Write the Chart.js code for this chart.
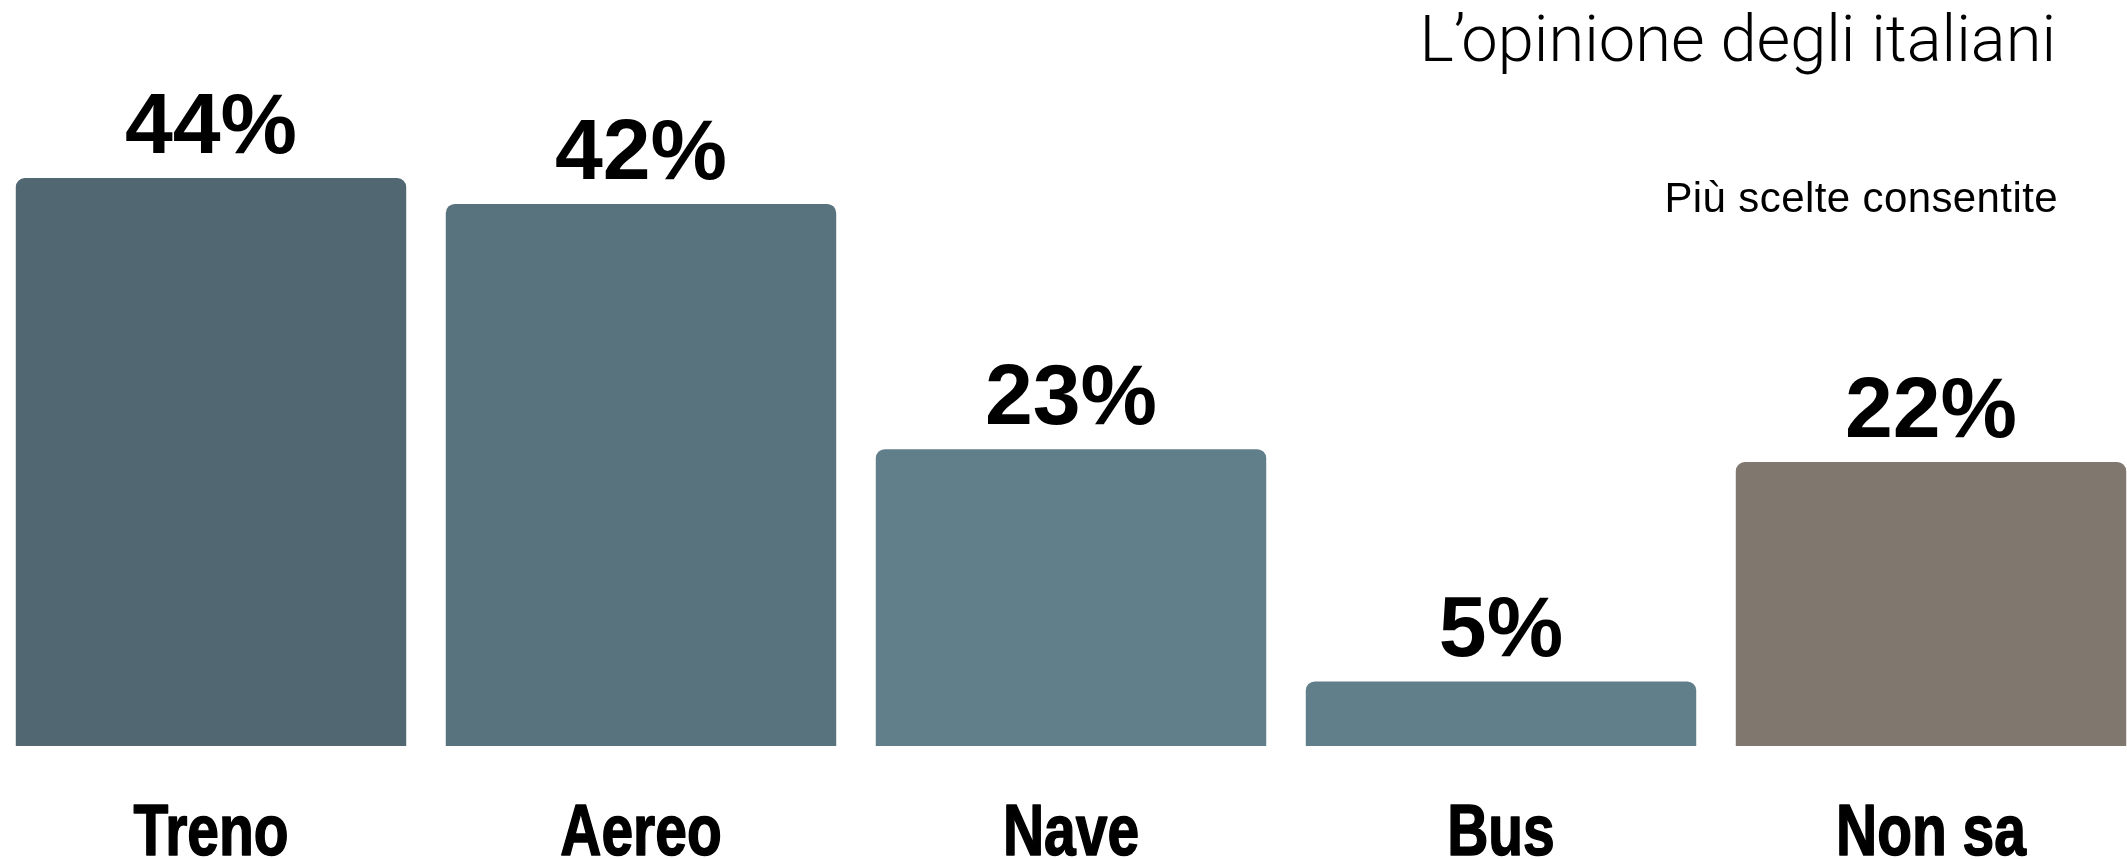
<!DOCTYPE html>
<html lang="it">
<head>
<meta charset="utf-8">
<title>L’opinione degli italiani</title>
<script src="https://cdn.jsdelivr.net/npm/chart.js@4/dist/chart.umd.min.js"></script>
<style>
  html, body { margin: 0; padding: 0; background: #ffffff; overflow: hidden; }
  body { width: 2127px; height: 859px; position: relative; }
  #wrap { position: absolute; left: -4px; top: 0; width: 2150px; height: 859px; }
</style>
</head>
<body>
<div id="wrap"><canvas id="chart"></canvas></div>
<script>
// Mezzi di trasporto preferiti (più scelte consentite)
const categories = ['Treno', 'Aereo', 'Nave', 'Bus', 'Non sa'];
const percentages = [44, 42, 23, 5, 22];
const barColors = ['#516873', '#58737e', '#617f8a', '#617f8a', '#80776e'];
const titleText = 'L’opinione degli italiani';
const subtitleText = 'Più scelte consentite';

// Percentuali sopra le barre, etichette delle categorie (condensate) e intestazione
const annotations = {
  id: 'annotations',
  afterDatasetsDraw(chart) {
    const ctx = chart.ctx;
    const meta = chart.getDatasetMeta(0);
    const xScale = chart.scales.x;
    ctx.save();
    ctx.fillStyle = '#000000';
    ctx.strokeStyle = '#000000';
    ctx.textAlign = 'center';
    ctx.textBaseline = 'alphabetic';

    ctx.font = 'bold 86px "Liberation Sans", Arial, sans-serif';
    meta.data.forEach((bar, i) => {
      ctx.fillText(percentages[i] + '%', bar.x, bar.y - 25);
    });

    // nomi delle categorie, in grassetto stretto
    const squeeze = 0.78;
    ctx.font = 'bold 73px "Liberation Sans", Arial, sans-serif';
    ctx.lineWidth = 1.6;
    ctx.lineJoin = 'round';
    categories.forEach((name, i) => {
      const cx = xScale.getPixelForValue(i);
      ctx.save();
      ctx.translate(cx, 855);
      ctx.scale(squeeze, 1);
      ctx.fillText(name, 0, 0);
      ctx.strokeText(name, 0, 0);
      ctx.restore();
    });

    ctx.textAlign = 'right';
    ctx.font = '300 65px Roboto, "Liberation Sans", sans-serif';
    ctx.fillText(titleText, 2060, 61);
    ctx.font = '42px "Liberation Sans", Arial, sans-serif';
    ctx.letterSpacing = '0.4px';
    ctx.fillText(subtitleText, 2062, 212);
    ctx.restore();
  }
};

new Chart(document.getElementById('chart'), {
  type: 'bar',
  data: {
    labels: categories,
    datasets: [{
      data: percentages,
      backgroundColor: barColors,
      borderRadius: { topLeft: 9, topRight: 9, bottomLeft: 0, bottomRight: 0 },
      borderSkipped: 'bottom',
      categoryPercentage: 1.0,
      barPercentage: 0.908
    }]
  },
  options: {
    responsive: true,
    maintainAspectRatio: false,
    animation: false,
    layout: { padding: { top: 0, left: 0, right: 0, bottom: 113 } },
    plugins: {
      legend: { display: false },
      tooltip: { enabled: false },
      title: { display: false }
    },
    scales: {
      x: {
        display: false
      },
      y: {
        display: false,
        min: 0,
        max: 57.8
      }
    }
  },
  plugins: [annotations]
});
</script>
</body>
</html>
